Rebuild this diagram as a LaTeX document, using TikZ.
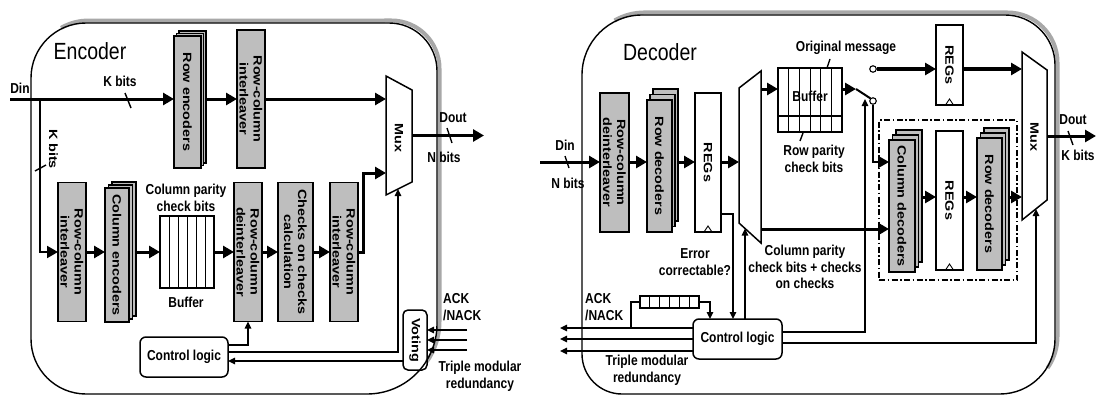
\documentclass[tikz,border=0pt]{standalone}
\usepackage{fontspec}
\setmainfont{Liberation Sans}
\usetikzlibrary{arrows.meta,calc}
\definecolor{boxgray}{RGB}{190,190,190}
\definecolor{shadowgray}{RGB}{168,168,168}
\newcommand{\lblfont}{\fontsize{12}{14}\selectfont\bfseries}
\newcommand{\ttlfont}{\fontsize{19.5}{22}\selectfont}
\newcommand{\stackbox}[8]{%
  \node[gbx, minimum width=#4pt, minimum height=#5pt] (#1b2) at (#2+2*#6,#3-2*#7) {};
  \node[gbx, minimum width=#4pt, minimum height=#5pt] (#1b1) at (#2+#6,#3-#7) {};
  \node[gbx, minimum width=#4pt, minimum height=#5pt] (#1) at (#2,#3) {};
  \node[vt] (#1t) at (#1.center) {#8};}
\begin{document}
\begin{tikzpicture}[x=1pt,y=-1pt,
  thk/.style={line width=3pt},
  med/.style={line width=2pt},
  thn/.style={line width=1.4pt},
  bx/.style={draw, line width=1.5pt, inner sep=0pt, outer sep=0pt},
  gbx/.style={bx, fill=boxgray},
  wbx/.style={bx, fill=white},
  ht/.style={font=\lblfont, yscale=1.2, align=center, inner sep=0pt},
  vt/.style={font=\lblfont, yscale=1.2, rotate=-90, align=center, inner sep=0pt},
  ttl/.style={font=\ttlfont, yscale=1.2, inner sep=0pt},
  bar/.style={-{Triangle[length=11pt,width=12pt]}},
  sar/.style={-{Triangle[length=7pt,width=6.5pt]}},
  muxs/.style={draw, line width=1.5pt, fill=white},
  sw/.style={circle, draw, line width=1.1pt, fill=white, minimum size=6.5pt, inner sep=0pt},
  clk/.style={line width=0.9pt},
]
\useasboundingbox (0,0) rectangle (1097,396);
\fill[white] (0,0) rectangle (1097,396);

% ================= ENCODER =================
\draw[shadowgray, line width=4pt, shift={(2.5,-2.5)}] (58.5,30.4) arc[start angle=120,end angle=90,radius=55pt] -- (389,23) arc[start angle=90,end angle=0,radius=48pt] -- (437,324) arc[start angle=0,end angle=-35,radius=70pt];
\draw[thn] (31,78) arc[start angle=180,end angle=90,radius=55pt] -- (389,23) arc[start angle=90,end angle=0,radius=48pt] -- (437,324) arc[start angle=0,end angle=-90,radius=70pt] -- (86,394) arc[start angle=-90,end angle=-180,radius=55pt] -- cycle;
\node[ttl] (etitle) at (90,51) {Encoder};

\stackbox{renc}{187.5}{102}{27}{132}{2.5}{2.5}{Row encoders}
\node[gbx, minimum width=28pt, minimum height=138pt] (ril1) at (251,99) {};
\node[vt] (ril1t) at (ril1.center) {Row-column\\interleaver};
\draw[muxs] (386,76) -- (412,90) -- (412,182) -- (386,195) -- cycle;
\coordinate (emL) at (386,135.5);
\coordinate (emR) at (412,135.5);
\coordinate (emS) at (398,189);
\node[vt] (emuxt) at (399,138) {Mux};

\node[gbx, minimum width=28pt, minimum height=139pt] (ril2) at (72,252) {};
\node[vt] (ril2t) at (ril2.center) {Row-column\\interleaver};
\stackbox{cenc}{117}{255}{24}{134}{3.5}{3}{Column encoders}
\node[wbx, minimum width=54pt, minimum height=72pt] (ebuf) at (187,252) {};
\foreach \i in {1,...,5} {\draw[line width=1pt] ($(ebuf.north west)+(9*\i,0)$) -- ($(ebuf.south west)+(9*\i,0)$);}
\node[ht] (ecp) at (186,198) {Column parity\\check bits};
\node[ht] (ebuft) at (186,302) {Buffer};
\node[gbx, minimum width=28pt, minimum height=139pt] (edil) at (248,252) {};
\node[vt] (edilt) at (edil.center) {Row-column\\deinterleaver};
\node[gbx, minimum width=35pt, minimum height=139pt] (ecc) at (295.5,252) {};
\node[vt] (ecct) at (ecc.center) {Checks on checks\\calculation};
\node[gbx, minimum width=28pt, minimum height=139pt] (ril3) at (344,252) {};
\node[vt] (ril3t) at (ril3.center) {Row-column\\interleaver};

\node[bx, rounded corners=6pt, minimum width=88pt, minimum height=40pt] (ectl) at (184,357) {};
\node[ht] (ectlt) at (ectl.center) {Control logic};
\node[bx, rounded corners=5pt, minimum width=24pt, minimum height=60pt] (vote) at (415,340) {};
\node[vt] (votet) at (vote.center) {Voting};

% encoder connectors
\coordinate (din1) at (10,99);
\coordinate (br1) at (40,99);
\coordinate (ejog) at (363,173);
\coordinate (eout) at (484,135.5);
\draw[thk, bar] (din1) -- (din1 -| renc.west);
\draw[thk, bar] (ril1.west -| rencb2.east) -- (ril1.west);
\draw[thk, bar] (ril1.east) -- (ril1.east -| emL);
\draw[thk, bar] (emR) -- (eout);
\draw[med, bar] (br1) |- (ril2.west);
\draw[thk, bar] (ril2.east) -- (ril2.east -| cenc.west);
\draw[thk, bar] (ebuf.west -| cencb2.east) -- (ebuf.west);
\draw[thk, bar] (ebuf.east) -- (edil.west);
\draw[thk, bar] (edil.east) -- (ecc.west);
\draw[thk, bar] (ecc.east) -- (ril3.west);
\draw[thk, bar] (ril3.east) -| (ejog) -- (ejog -| emL);
\draw[thn, sar] (ectl.east |- 0,345) -| (edil.south);
\draw[thn, sar] (ectl.east |- 0,352) -| (emS);
\draw[thn, sar] (vote.west |- 0,361) -- (ectl.east |- 0,361);
\coordinate (ein) at (467,330);
\foreach \yy in {330,340,350} {\draw[thn, sar] (ein |- 0,\yy) -- (vote.east |- 0,\yy);}

% encoder labels
\node[ht] (edin) at (20,88) {Din};
\node[ht] (ekb1) at (120,81) {K bits};
\draw[thn] (125,93) -- (131,108);
\node[vt] (ekb2) at (53.5,149) {K bits};
\draw[thn] (35,171) -- (46,165);
\node[ht] (edout) at (453,118) {Dout};
\node[ht] (enb) at (444,157) {N bits};
\draw[thn] (447,128) -- (452,143);
\node[ht, anchor=west, align=left] (eack) at (443,307) {ACK\\/NACK};
\node[ht] (etmr) at (480,376) {Triple modular\\redundancy};

% ================= DECODER =================
\draw[shadowgray, line width=4pt, shift={(2.5,-2.5)}] (612,23) arc[start angle=120,end angle=90,radius=60pt] -- (1005,15) arc[start angle=90,end angle=0,radius=50pt] -- (1055,339) arc[start angle=0,end angle=-35,radius=55pt];
\draw[thn] (582,75) arc[start angle=180,end angle=90,radius=60pt] -- (1005,15) arc[start angle=90,end angle=0,radius=50pt] -- (1055,339) arc[start angle=0,end angle=-90,radius=55pt] -- (622,394) arc[start angle=-90,end angle=-180,radius=40pt] -- cycle;
\node[ttl] (dtitle) at (660,52) {Decoder};

\node[gbx, minimum width=29pt, minimum height=139pt] (ddil) at (614.5,162.5) {};
\node[vt] (ddilt) at (ddil.center) {Row-column\\deinterleaver};
\stackbox{rdec}{659.5}{166}{25}{132}{3}{5.5}{Row decoders}
\node[wbx, minimum width=26pt, minimum height=139pt] (reg1) at (708,162.5) {};
\node[vt] (reg1t) at (reg1.center) {REGs};
\draw[clk] ($(reg1.south)+(-4,0)$) -- ++(4,-6) -- ++(4,6);
\draw[muxs] (739,88) -- (761,71) -- (761,243) -- (739,223) -- cycle;
\coordinate (dmL) at (739,157);
\coordinate (dmR) at (761,157);
\coordinate (dmS) at (745,228.5);

\node[wbx, minimum width=64pt, minimum height=64pt] (dbuf) at (810,100) {};
\foreach \i in {1,...,5} {\draw[line width=1pt] ($(dbuf.north west)+(10.667*\i,0)$) -- ($(dbuf.south west)+(10.667*\i,0)$);}
\draw[line width=1.1pt] (dbuf.west |- 0,116) -- (dbuf.east |- 0,116);
\node[ht] (dbuft) at (810,96) {Buffer};
\node[ht] (dom) at (846,48) {Original message};
\draw[thn] (830,59) -- (827,68);
\node[ht] (drp) at (814,159) {Row parity\\check bits};
\draw[thn] (803,133) -- (800,141);

\node[sw] (sw1) at (873,101) {};
\node[sw] (sw2) at (873,69) {};
\node[wbx, minimum width=27pt, minimum height=80pt] (reg2) at (949.5,65) {};
\node[vt] (reg2t) at (reg2.center) {REGs};
\draw[clk] ($(reg2.south)+(-4,0)$) -- ++(4,-6) -- ++(4,6);

\node[draw, line width=1.1pt, dash pattern=on 6pt off 2.5pt on 1.5pt off 2.5pt, minimum width=138pt, minimum height=160pt, inner sep=0pt] (dd) at (948,200) {};
\stackbox{cdec}{902}{206}{26}{132}{3.5}{5}{Column decoders}
\node[wbx, minimum width=27pt, minimum height=139pt] (reg3) at (949.5,200.5) {};
\node[vt] (reg3t) at (reg3.center) {REGs};
\draw[clk] ($(reg3.south)+(-4,0)$) -- ++(4,-6) -- ++(4,6);
\stackbox{rdecc}{989.5}{204}{25}{132}{3.5}{5}{Row decoders}

\draw[muxs] (1022,52) -- (1047,70) -- (1047,200) -- (1022,220) -- cycle;
\coordinate (dxL) at (1022,136);
\coordinate (dxR) at (1047,136);
\coordinate (dxS) at (1036,209);
\node[vt] (dmuxt) at (1034.5,137) {Mux};

\node[bx, rounded corners=6pt, minimum width=89pt, minimum height=40pt] (dctl) at (737.5,339) {};
\node[ht] (dctlt) at (dctl.center) {Control logic};
\node[wbx, line width=1.2pt, minimum width=59pt, minimum height=12pt] (ackr) at (669.5,302) {};
\foreach \i in {1,...,5} {\draw[line width=1pt] ($(ackr.north west)+(9.833*\i,0)$) -- ($(ackr.south west)+(9.833*\i,0)$);}

% decoder connectors
\coordinate (din2) at (540,162);
\coordinate (swin) at (856,89);
\coordinate (swctl) at (865,99);
\coordinate (dout) at (1096,136);
\coordinate (dleft) at (560,330);
\coordinate (ackb) at (631,328);
\draw[thk, bar] (din2) -- (din2 -| ddil.west);
\draw[thk, bar] (din2 -| ddil.east) -- (din2 -| rdec.west);
\draw[thk, bar] (din2 -| rdecb2.east) -- (din2 -| reg1.west);
\draw[thk, bar] (din2 -| reg1.east) -- (din2 -| dmL);
\draw[thk, bar] (dmR |- 0,89) -- (dbuf.west |- 0,89);
\draw[thk, bar] (dmR |- 0,229) -- (cdec.west |- 0,229);
\draw[thk, bar] (dbuf.east |- swin) -- (swin);
\draw[med] (swin) -- (sw1.north west);
\draw[med, bar] (sw1.south) |- (cdec.west |- 0,162);
\draw[thk, bar] (sw2.east) -- (sw2 -| reg2.west);
\draw[thk, bar] (sw2 -| reg2.east) -- (sw2 -| dxL);
\draw[thk, bar] (cdecb2.east |- 0,197) -- (reg3.west |- 0,197);
\draw[thk, bar] (reg3.east |- 0,197) -- (rdecc.west |- 0,197);
\draw[thk, bar] (rdeccb2.east |- 0,197) -- (dxL |- 0,197);
\draw[thk, bar] (dxR) -- (dout);

\foreach \yy in {328,339,351} {\draw[thn, sar] (dctl.west |- 0,\yy) -- (dleft |- 0,\yy);}
\draw[thn] (ackb) |- (ackr.west);
\draw[thn, sar] (ackr.east) -| ($(dctl.north west)+(17,0)$);
\draw[thn, sar] (reg1.east |- 0,214) -| ($(dctl.north west)+(40,0)$);
\draw[thn, sar] (dctl.north west -| dmS) -- (dmS);
\draw[thn, sar] (dctl.east |- 0,332) -| (swctl);
\draw[thn, sar] (dctl.east |- 0,343) -| (dxS);

% decoder labels
\node[ht] (ddin) at (565,145) {Din};
\node[ht] (dnb) at (568,183) {N bits};
\draw[thn] (565,156) -- (569,168);
\node[ht] (derr) at (695,262) {Error\\correctable?};
\node[ht] (dcp) at (805,267) {Column parity\\check bits + checks\\on checks};
\node[ht, anchor=west, align=left] (dack) at (585,307) {ACK\\/NACK};
\node[ht] (dtmr) at (647,370) {Triple modular\\redundancy};
\node[ht] (ddout) at (1073,120) {Dout};
\node[ht] (dkb) at (1078,155) {K bits};
\draw[thn] (1068,131) -- (1073,145);
\end{tikzpicture}
\end{document}
